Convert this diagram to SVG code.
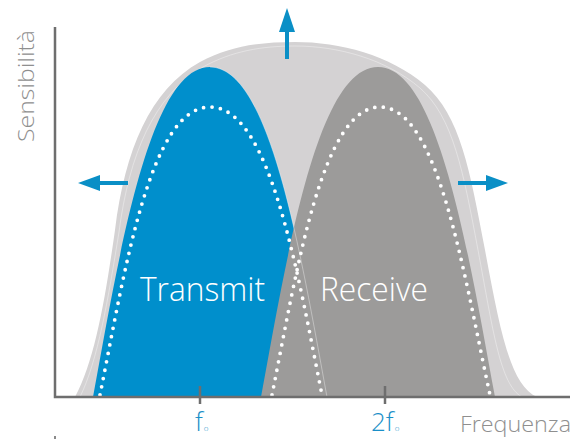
<svg xmlns="http://www.w3.org/2000/svg" width="582" height="439" viewBox="0 0 582 439">
<defs>
<style>
.env{fill:#d4d2d3}
.faint{fill:none;stroke:#ffffff;stroke-opacity:0.45;stroke-width:0.8}
.blue{fill:#008fcc}
.gray{fill:#9c9b9a}
.dots{fill:none;stroke:#ffffff;stroke-width:3.8;stroke-linecap:round;stroke-dasharray:0 8.5}
.axis{stroke:#6e6e6e;stroke-width:2.5;fill:none}
.arrow{stroke:#0a8fc6;stroke-width:4;fill:none}
.head{fill:#0a8fc6}
.lbl{font-family:"Open Sans","Liberation Sans",sans-serif;font-weight:300;fill:#ffffff;font-size:33px}
.tick{font-family:"Open Sans","Liberation Sans",sans-serif;font-weight:300;fill:#1a8fc8;font-size:26px}
.ax{font-family:"Open Sans","Liberation Sans",sans-serif;font-weight:300;fill:#8f8f8f;font-size:22px}
</style>
</defs>
<g id="envelope">
<path class="env" d="M75,397 C95,360 105,300 115,230 C125,150 150,90 200,62 C230,46 260,42 295,42 C340,42 390,55 425,85 C460,115 470,170 485,250 C500,330 510,385 537,397 Z"/>
<path class="faint" d="M80,397 C98,360 108,300 119,232 C129,155 154,95 203,67 C232,51 262,46 295,46 C338,46 386,59 420,88 C453,117 463,170 478,250 C493,330 500,385 522,397"/>
</g>
<g id="transmit">
<path class="blue" d="M93,397 C120,250 150,67 210,67 C270,67 300,250 327,397 Z"/>
</g>
<g id="receive">
<path class="gray" d="M261,397 C288,250 318,67 378,67 C438,67 468,250 495,397 Z"/>
<path class="faint" d="M210,67 C270,67 300,250 327,397"/>
</g>
<g id="dotted">
<path class="dots" d="M100,395 C125,270 150,107 210,107 C270,107 297,270 322,395"/>
<path class="dots" d="M272,395 C297,270 322,107 380,107 C438,107 463,270 490,395"/>
</g>
<g id="labels">
<text class="lbl" x="140" y="301" textLength="125" lengthAdjust="spacingAndGlyphs">Transmit</text>
<text class="lbl" x="320" y="301" textLength="108" lengthAdjust="spacingAndGlyphs">Receive</text>
</g>
<g id="arrows">
<line class="arrow" x1="128" y1="183" x2="98" y2="183"/>
<polygon class="head" points="78,183 100,175 100,191"/>
<line class="arrow" x1="458" y1="183" x2="488" y2="183"/>
<polygon class="head" points="508,183 486,175 486,191"/>
<line class="arrow" x1="287" y1="59" x2="287" y2="30"/>
<polygon class="head" points="287,8 279,32 295,32"/>
</g>
<g id="axes">
<polyline class="axis" points="55,27 55,397 570,397"/>
<line class="axis" x1="200" y1="386" x2="200" y2="404"/>
<line class="axis" x1="385" y1="386" x2="385" y2="404"/>
<rect x="54" y="436" width="2" height="3" fill="#8a8a8a"/>
<text class="ax" x="460" y="432" textLength="111" lengthAdjust="spacingAndGlyphs">Frequenza</text>
<text class="ax" transform="translate(34,142) rotate(-90)" x="0" y="0" textLength="112" lengthAdjust="spacingAndGlyphs">Sensibilità</text>
<text class="tick" x="195" y="431">f<tspan font-size="8" dx="1">o</tspan></text>
<text class="tick" x="371" y="431">2f<tspan font-size="8" dx="1">o</tspan></text>
</g>
</svg>
